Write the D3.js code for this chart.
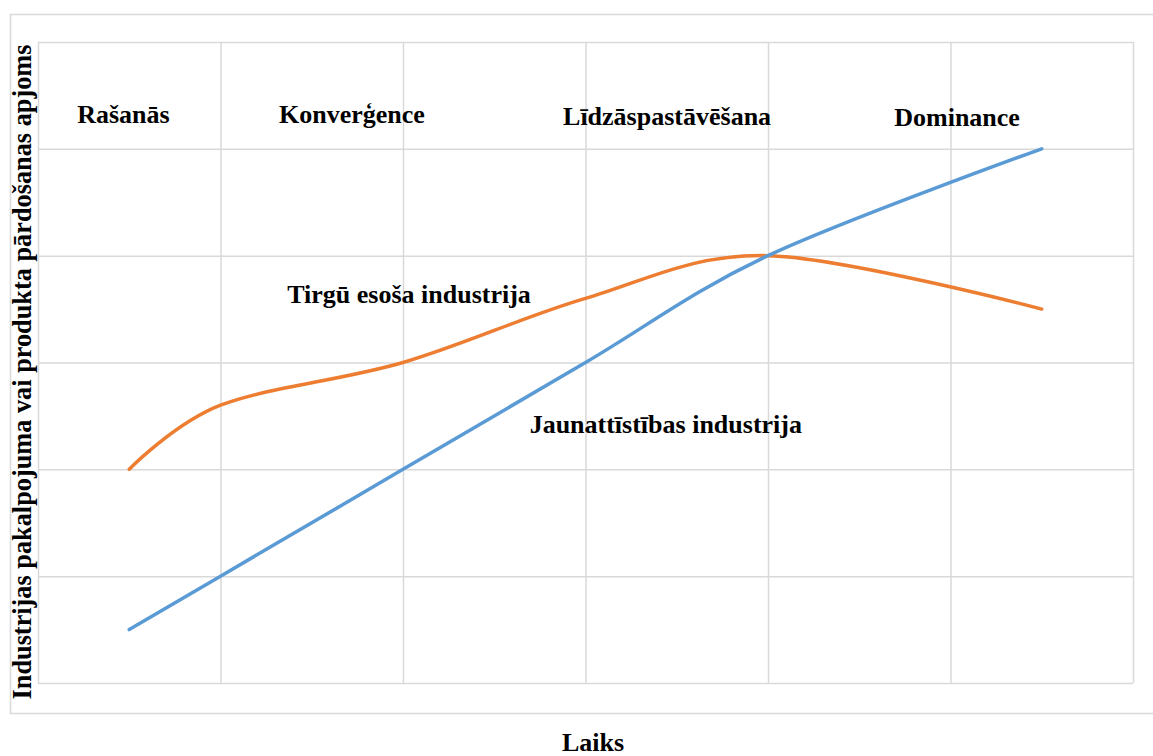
<!DOCTYPE html>
<html>
<head>
<meta charset="utf-8">
<script src="https://cdn.jsdelivr.net/npm/d3@7"></script>
<style>
  html, body { margin: 0; padding: 0; background: #fff; }
  text { font-family: "Liberation Serif", "Times New Roman", serif; font-weight: bold; fill: #000; }
</style>
</head>
<body>
<svg id="chart" width="1153" height="756"></svg>
<script>
// ---- data ----
const xValues = [0.5, 1, 2, 3, 4, 5.5];
const emergingIndustry = [0.5, 1, 2, 3, 4, 5];        // Jaunattīstības industrija
const existingIndustry = [2, 2.6, 3, 3.6, 4, 3.5];    // Tirgū esoša industrija
const xTicks = [0, 1, 2, 3, 4, 5, 6];
const yTicks = [0, 1, 2, 3, 4, 5, 6];
const phaseLabels = ["Rašanās", "Konverģence", "Līdzāspastāvēšana", "Dominance"];
const seriesLabels = ["Jaunattīstības industrija", "Tirgū esoša industrija"];
const xTitle = "Laiks";
const yTitle = "Industrijas pakalpojuma vai produkta pārdošanas apjoms";

// ---- layout ----
const W = 1153, H = 756;
const plot = { left: 38, top: 42, right: 1133, bottom: 683 };
const phasePos = [[0.468, 5.242], [1.72, 5.242], [3.447, 5.223], [5.036, 5.214]]; // data-unit anchor (center, baseline)
const seriesPos = [[3.44, 2.34], [2.033, 3.557]];
const fontSize = 26;

const svg = d3.select("#chart");
const x = d3.scaleLinear().domain([0, 6]).range([plot.left, plot.right]);
const y = d3.scaleLinear().domain([0, 6]).range([plot.bottom, plot.top]);

// outer chart border
svg.append("path")
  .attr("d", `M${W + 2},14.5 H10.5 V713.5 H${W + 2}`)
  .attr("fill", "none").attr("stroke", "#d9d9d9").attr("stroke-width", 1.5);

// gridlines via axes
const grid = svg.append("g");
grid.append("g")
  .attr("transform", `translate(0,${plot.bottom})`)
  .call(d3.axisBottom(x).tickValues(xTicks).tickSize(-(plot.bottom - plot.top)).tickFormat(""))
  .call(g => g.select(".domain").remove())
  .call(g => g.selectAll("line").attr("stroke", "#d9d9d9").attr("stroke-width", 1.5));
grid.append("g")
  .attr("transform", `translate(${plot.left},0)`)
  .call(d3.axisLeft(y).tickValues(yTicks).tickSize(-(plot.right - plot.left)).tickFormat(""))
  .call(g => g.select(".domain").remove())
  .call(g => g.selectAll("line").attr("stroke", "#d9d9d9").attr("stroke-width", 1.5));

// lines
const line = d3.line()
  .x((d, i) => x(xValues[i]))
  .y(d => y(d))
  .curve(d3.curveCardinal.tension(0));

svg.append("path").datum(existingIndustry)
  .attr("d", line).attr("fill", "none")
  .attr("stroke", "#ED7D31").attr("stroke-width", 3.5).attr("stroke-linecap", "round");
svg.append("path").datum(emergingIndustry)
  .attr("d", line).attr("fill", "none")
  .attr("stroke", "#5B9BD5").attr("stroke-width", 3.5).attr("stroke-linecap", "round");

// phase labels
svg.selectAll("text.phase").data(phaseLabels).enter().append("text")
  .attr("class", "phase")
  .attr("x", (d, i) => x(phasePos[i][0]))
  .attr("y", (d, i) => y(phasePos[i][1]))
  .attr("text-anchor", "middle")
  .style("font-size", fontSize + "px")
  .text(d => d);

// series labels
svg.selectAll("text.series").data(seriesLabels).enter().append("text")
  .attr("class", "series")
  .attr("x", (d, i) => x(seriesPos[i][0]))
  .attr("y", (d, i) => y(seriesPos[i][1]))
  .attr("text-anchor", "middle")
  .style("font-size", fontSize + "px")
  .text(d => d);

// axis titles
svg.append("text")
  .attr("x", 593).attr("y", 751)
  .attr("text-anchor", "middle")
  .style("font-size", fontSize + "px")
  .text(xTitle);
svg.append("text")
  .attr("transform", `translate(31,${(40 + 704) / 2}) rotate(-90)`)
  .attr("text-anchor", "middle")
  .style("font-size", "26.3px")
  .text(yTitle);
</script>
</body>
</html>
